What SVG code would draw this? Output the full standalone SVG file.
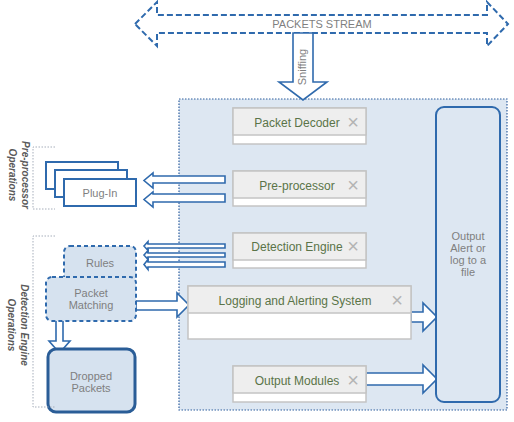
<svg xmlns="http://www.w3.org/2000/svg" width="514" height="422" viewBox="0 0 514 422">
<style>
.lbl{font-family:"Liberation Sans",Arial,sans-serif;font-size:11px;fill:#7f7f7f;text-anchor:middle}
.mod{font-family:"Liberation Sans",Arial,sans-serif;font-size:12px;fill:#5a7448;text-anchor:middle}
.x{font-family:"Liberation Sans",Arial,sans-serif;font-size:20px;fill:#b4b4b4;text-anchor:middle}
.side{font-family:"Liberation Sans",Arial,sans-serif;font-size:10px;font-style:italic;font-weight:bold;fill:#5a5a5a;text-anchor:middle}
.hdr{fill:#eeeeee;stroke:#c4c4c4;stroke-width:1.5}
.body{fill:#ffffff;stroke:#c4c4c4;stroke-width:1.5}
.arr{fill:#ffffff;stroke:#2f6aad;stroke-width:1.6;stroke-linejoin:miter}
.brk{fill:none;stroke:#a6aebb;stroke-width:1;stroke-dasharray:1.5 1.5}
</style>
<rect width="514" height="422" fill="#ffffff"/>

<g id="main-box">
<rect x="179" y="99" width="328" height="311" fill="#dde7f2" stroke="#2f5f9e" stroke-width="1.2" stroke-dasharray="1.5 1.5"/>
</g>

<g id="packets-stream">
<polygon points="135,24 157,2 157,15 487,15 487,2 508,24 487,46 487,33 157,33 157,46" fill="#ffffff" stroke="#2f6aad" stroke-width="2" stroke-dasharray="6 3"/>
<text class="lbl" x="322" y="28">PACKETS STREAM</text>
</g>

<g id="connectors">
<polygon class="arr" stroke-width="2" points="293,33 313,33 313,82 327,82 303,100 279,82 293,82"/>
<text class="lbl" font-size="10" transform="translate(306,67) rotate(-90)" x="0" y="0">Sniffing</text>
<!-- pre-processor to plug-in -->
<polygon class="arr" points="225,176 153,176 153,173 144,180.5 153,188 153,183 225,183"/>
<polygon class="arr" points="225,194 153,194 153,192 144,199.5 153,207 153,202 225,202"/>
<!-- detection engine to rules -->
<polygon class="arr" points="225,244 148,244 148,241.5 144,246 148,250.5 148,248 225,248"/>
<polygon class="arr" points="225,253 148,253 148,250.5 144,255 148,259.5 148,257 225,257"/>
<polygon class="arr" points="225,262 148,262 148,259.5 144,264.5 148,269.5 148,267 225,267"/>
<!-- packet matching to logging -->
<polygon class="arr" stroke-width="2" points="136,301 177,301 177,293 189,305 177,317 177,310 136,310"/>
<!-- packet matching to dropped -->
<polygon class="arr" stroke-width="2" points="56,316 63,316 63,341 70,341 59.5,353 49,341 56,341"/>
<!-- logging to output -->
<polygon class="arr" stroke-width="2" points="411,312 423,312 423,303 437,317 423,331 423,322 411,322"/>
<!-- output modules to output -->
<polygon class="arr" stroke-width="2" points="366,373 423,373 423,365 437,379 423,393 423,385 366,385"/>
</g>

<g id="packet-decoder">
<rect class="body" x="233" y="108" width="133" height="36"/>
<rect class="hdr" x="233" y="108" width="133" height="27"/>
<text class="mod" x="297" y="127">Packet Decoder</text>
<text class="x" x="353" y="129">×</text>
</g>

<g id="pre-processor">
<rect class="body" x="233" y="171" width="133" height="35"/>
<rect class="hdr" x="233" y="171" width="133" height="27"/>
<text class="mod" x="297" y="190">Pre-processor</text>
<text class="x" x="353" y="192">×</text>
</g>

<g id="detection-engine">
<rect class="body" x="233" y="233" width="133" height="35"/>
<rect class="hdr" x="233" y="233" width="133" height="27"/>
<text class="mod" x="297" y="251">Detection Engine</text>
<text class="x" x="353" y="253">×</text>
</g>

<g id="logging">
<rect class="body" x="188" y="286" width="223" height="53"/>
<rect class="hdr" x="188" y="286" width="223" height="27"/>
<text class="mod" x="295" y="305">Logging and Alerting System</text>
<text class="x" x="397" y="307">×</text>
</g>

<g id="output-modules">
<rect class="body" x="233" y="366" width="133" height="36"/>
<rect class="hdr" x="233" y="366" width="133" height="27"/>
<text class="mod" x="297" y="385">Output Modules</text>
<text class="x" x="353" y="387">×</text>
</g>

<g id="output-alert">
<rect x="436" y="107" width="64" height="295" rx="8" fill="#dde7f2" stroke="#2f6aad" stroke-width="2"/>
<text class="lbl" x="468" y="240">Output</text>
<text class="lbl" x="468" y="252">Alert or</text>
<text class="lbl" x="468" y="264">log to a</text>
<text class="lbl" x="468" y="276">file</text>
</g>

<g id="plug-in">
<rect x="46" y="162" width="72" height="27" fill="#ffffff" stroke="#2f6aad" stroke-width="2"/>
<rect x="55" y="170" width="72" height="27" fill="#ffffff" stroke="#2f6aad" stroke-width="2"/>
<rect x="64" y="179" width="72" height="27" fill="#ffffff" stroke="#2f6aad" stroke-width="2"/>
<text class="lbl" x="100" y="197">Plug-In</text>
</g>

<g id="rules">
<rect x="64" y="246" width="72" height="36" rx="6" fill="#d6e2ef" stroke="#2f6aad" stroke-width="2" stroke-dasharray="4 3"/>
<text class="lbl" x="100" y="267">Rules</text>
</g>

<g id="packet-matching">
<rect x="46" y="277" width="90" height="44" rx="6" fill="#d6e2ef" stroke="#2f6aad" stroke-width="2" stroke-dasharray="4 3"/>
<text class="lbl" x="91" y="297">Packet</text>
<text class="lbl" x="91" y="309">Matching</text>
</g>

<g id="dropped-packets">
<rect x="48" y="349" width="87" height="63" rx="8" fill="#d6e2ef" stroke="#2a5d97" stroke-width="3"/>
<text class="lbl" font-size="12" x="91" y="380">Dropped</text>
<text class="lbl" font-size="12" x="91" y="392">Packets</text>
</g>

<g id="preprocessor-ops">
<polyline class="brk" points="55,147 33,147 33,209 55,209"/>
<text class="side" transform="translate(22,175) rotate(90)" x="0" y="0">Pre-processor</text>
<text class="side" transform="translate(9,175) rotate(90)" x="0" y="0">Operations</text>
</g>

<g id="detection-ops">
<polyline class="brk" points="55,236 33,236 33,407 55,407"/>
<text class="side" transform="translate(21,325) rotate(90)" x="0" y="0">Detection Engine</text>
<text class="side" transform="translate(8,325) rotate(90)" x="0" y="0">Operations</text>
</g>
</svg>
